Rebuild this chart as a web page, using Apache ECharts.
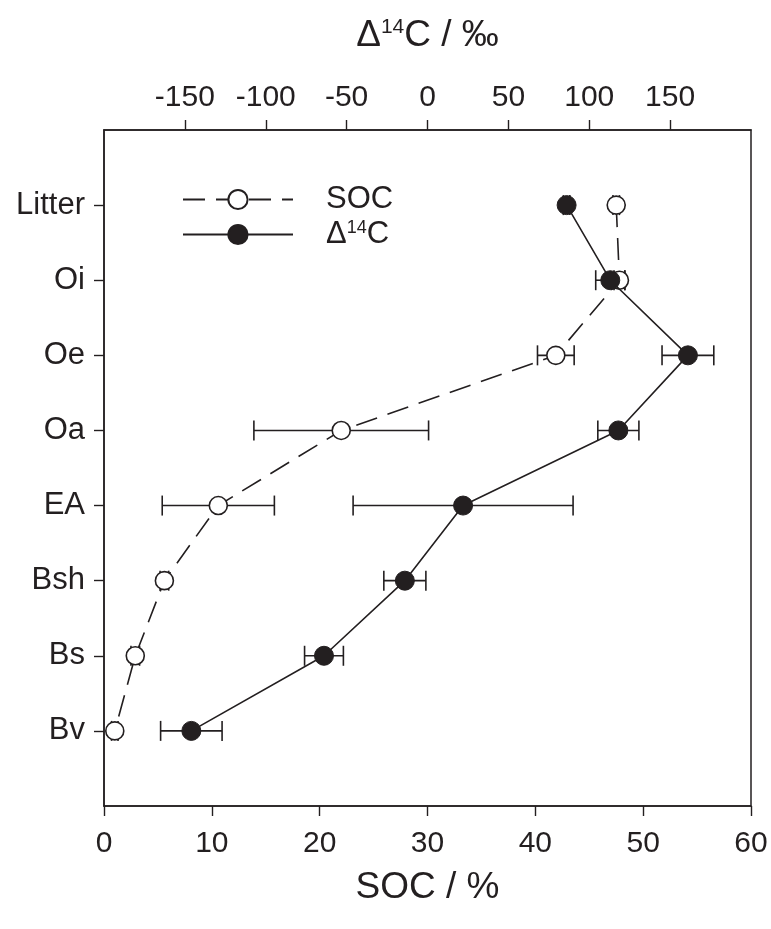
<!DOCTYPE html>
<html><head><meta charset="utf-8">
<script src="https://cdn.jsdelivr.net/npm/echarts@6/dist/echarts.min.js"></script>
<style>html,body{margin:0;padding:0;background:#fff}#c{width:771px;height:929px}</style>
</head><body><div id="c"></div>
<script>
const horizons = ['Litter','Oi','Oe','Oa','EA','Bsh','Bs','Bv'];
const socValues = [47.5, 47.8, 41.9, 22.0, 10.6, 5.6, 2.9, 1.0];
const socErrors = [0.3, 0.5, 1.7, 8.1, 5.2, 0.4, 0.4, 0.3];
const d14cValues = [86, 113, 161, 118, 22, -14, -64, -146];
const d14cErrors = [2, 9, 16, 12.7, 68, 13, 12, 19];
const socTicks = [0, 10, 20, 30, 40, 50, 60];
const d14cTicks = [-150, -100, -50, 0, 50, 100, 150];
const horizonPos = [1, 2, 3, 4, 5, 6, 7, 8];

const INK = '#231f20';
const FONT = 'Liberation Sans, Arial, sans-serif';

const socData = socValues.map((v, i) => [v, horizonPos[i]]);
const d14cData = d14cValues.map((v, i) => [v, horizonPos[i]]);
const socErr = socValues.map((v, i) => [v - socErrors[i], v + socErrors[i], horizonPos[i]]);
const d14cErr = d14cValues.map((v, i) => [v - d14cErrors[i], v + d14cErrors[i], horizonPos[i]]);

function errRender(params, api) {
  const p1 = api.coord([api.value(0), api.value(2)]);
  const p2 = api.coord([api.value(1), api.value(2)]);
  const h = 10;
  const st = { stroke: INK, lineWidth: 1.6 };
  return {
    type: 'group',
    children: [
      { type: 'line', shape: { x1: p1[0], y1: p1[1], x2: p2[0], y2: p2[1] }, style: st },
      { type: 'line', shape: { x1: p1[0], y1: p1[1] - h, x2: p1[0], y2: p1[1] + h }, style: st },
      { type: 'line', shape: { x1: p2[0], y1: p2[1] - h, x2: p2[0], y2: p2[1] + h }, style: st }
    ]
  };
}

const chart = echarts.init(document.getElementById('c'), null, { renderer: 'canvas' });
chart.setOption({
  animation: false,
  backgroundColor: '#fff',
  textStyle: { fontFamily: FONT, color: INK },
  grid: { left: 104, right: 20, top: 130, bottom: 123, show: true, borderColor: INK, borderWidth: 1.5, backgroundColor: 'transparent' },
  legend: {
    orient: 'vertical', left: 182, top: 184, padding: 0, itemWidth: 110, itemHeight: 24, itemGap: 4,
    data: ['SOC', 'D14C'],
    formatter: n => n === 'SOC' ? '{a|SOC}' : '{a|Δ}{s|14}{a|C}',
    textStyle: {
      padding: [0, 0, 0, 28],
      rich: {
        a: { fontSize: 31, fontFamily: FONT, color: INK },
        s: { fontSize: 18, fontFamily: FONT, color: INK, verticalAlign: 'top', padding: [0, 0, 12, 0] }
      }
    }
  },
  xAxis: [
    {
      type: 'value', position: 'bottom', min: 0, max: 60, interval: 10,
      name: 'SOC / %', nameLocation: 'middle', nameGap: 63,
      nameTextStyle: { fontSize: 37, fontFamily: FONT, color: INK },
      axisLine: { show: true, onZero: false, lineStyle: { color: INK, width: 1.5 } },
      axisTick: { show: true, inside: false, length: 10, lineStyle: { color: INK, width: 1.4 }, customValues: socTicks },
      axisLabel: { fontSize: 30, color: INK, margin: 23, fontFamily: FONT, customValues: socTicks },
      splitLine: { show: false }
    },
    {
      type: 'value', position: 'top', min: -200, max: 200, interval: 50,
      name: 'Δ{s|14}C / ‰', nameLocation: 'middle', nameGap: 76,
      nameTextStyle: {
        fontSize: 37, fontFamily: FONT, color: INK,
        rich: { s: { fontSize: 21, fontFamily: FONT, color: INK, verticalAlign: 'top', padding: [0, 0, 14, 0] } }
      },
      axisLine: { show: true, onZero: false, lineStyle: { color: INK, width: 1.5 } },
      axisTick: { show: true, inside: false, length: 10, lineStyle: { color: INK, width: 1.4 }, customValues: d14cTicks },
      axisLabel: { fontSize: 30, color: INK, margin: 17, fontFamily: FONT, customValues: d14cTicks },
      splitLine: { show: false }
    }
  ],
  yAxis: {
    type: 'value', min: 0, max: 9, inverse: true, interval: 1,
    axisLine: { show: true, onZero: false, lineStyle: { color: INK, width: 1.5 } },
    axisTick: { show: true, inside: false, length: 10, lineStyle: { color: INK, width: 1.4 }, customValues: horizonPos },
    axisLabel: {
      fontSize: 31, color: INK, margin: 19, fontFamily: FONT, customValues: horizonPos,
      formatter: v => horizons[v - 1] || ''
    },
    splitLine: { show: false }
  },
  series: [
    {
      type: 'custom', name: 'socErr', xAxisIndex: 0, yAxisIndex: 0, z: 1,
      renderItem: errRender, data: socErr, encode: { x: [0, 1], y: 2 }, silent: true
    },
    {
      type: 'custom', name: 'd14cErr', xAxisIndex: 1, yAxisIndex: 0, z: 1,
      renderItem: errRender, data: d14cErr, encode: { x: [0, 1], y: 2 }, silent: true
    },
    {
      type: 'line', name: 'SOC', xAxisIndex: 0, yAxisIndex: 0, z: 3,
      data: socData, symbol: 'circle', symbolSize: 18,
      lineStyle: { color: INK, width: 1.6, type: [22, 11] },
      itemStyle: { color: '#fff', borderColor: INK, borderWidth: 1.6 }
    },
    {
      type: 'line', name: 'D14C', xAxisIndex: 1, yAxisIndex: 0, z: 4,
      data: d14cData, symbol: 'circle', symbolSize: 19,
      lineStyle: { color: INK, width: 1.6, type: 'solid' },
      itemStyle: { color: INK, borderColor: INK, borderWidth: 1 }
    }
  ]
});
</script></body></html>
